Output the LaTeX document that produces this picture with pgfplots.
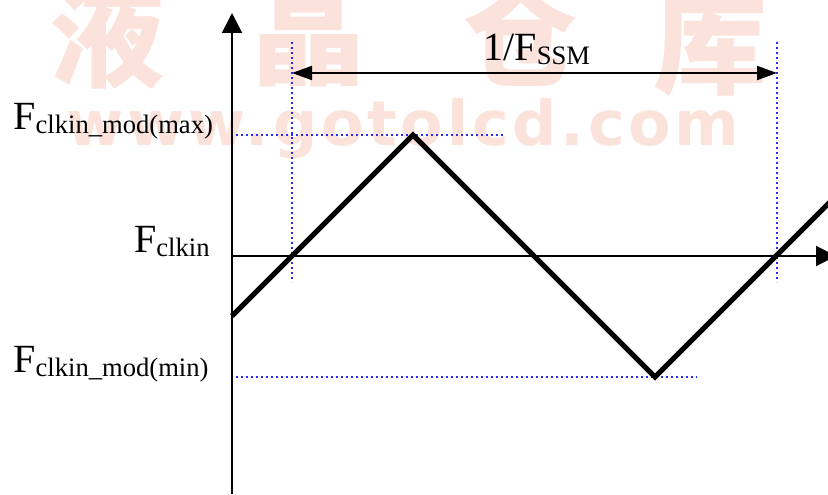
\documentclass[border=0pt]{standalone}
\usepackage{fontspec}
\setmainfont{Liberation Serif}
\newfontfamily\cjk{Noto Sans CJK SC}
\newfontfamily\wmsans[LetterSpace=6]{DejaVu Sans}
\usepackage{pgfplots}
\pgfplotsset{compat=1.18}
\usetikzlibrary{arrows.meta}

\definecolor{wmark}{RGB}{251,226,218}
\definecolor{dotblue}{RGB}{40,40,255}

% F with a lowered subscript
\newcommand\flab[1]{{\fontsize{20}{24}\selectfont F}\raisebox{-2.2pt}{\fontsize{13.3}{15}\selectfont #1}}

\begin{document}
\begin{tikzpicture}
\begin{axis}[
    scale only axis,
    width=414pt, height=247pt,
    xmin=0, xmax=828, ymin=0, ymax=494,
    hide axis,
    clip=false,
]
% watermark
\node[wmark, font=\cjk\bfseries\fontsize{57}{60}\selectfont] at (axis cs:107,459) {液};
\node[wmark, font=\cjk\bfseries\fontsize{57}{60}\selectfont] at (axis cs:308,459) {晶};
\node[wmark, font=\cjk\bfseries\fontsize{57}{60}\selectfont] at (axis cs:520,461) {仓};
\node[wmark, font=\cjk\bfseries\fontsize{57}{60}\selectfont] at (axis cs:710,452) {库};
\node[wmark, anchor=base, font=\wmsans\bfseries\fontsize{31}{34}\selectfont] at (axis cs:403,349) {www.gotolcd.com};

% axes
\draw[line width=1pt, -{Triangle[length=10pt,width=10pt]}] (axis cs:232,0) -- (axis cs:232,481);
\draw[line width=1pt, -{Triangle[length=10pt,width=10pt]}] (axis cs:232,238) -- (axis cs:836,238);

% guide lines
\draw[dotblue, line width=1.2pt, dash pattern=on 1.1pt off 1.4pt] (axis cs:292,452) -- (axis cs:292,212);
\draw[dotblue, line width=1.2pt, dash pattern=on 1.1pt off 1.4pt] (axis cs:777,452) -- (axis cs:777,212);
\draw[dotblue, line width=1.2pt, dash pattern=on 1.1pt off 1.4pt] (axis cs:236,359) -- (axis cs:505,359);
\draw[dotblue, line width=1.2pt, dash pattern=on 1.1pt off 1.4pt] (axis cs:236,117) -- (axis cs:697,117);

% period arrow
\draw[line width=1pt, {Triangle[length=10pt,width=7pt]}-{Triangle[length=10pt,width=7pt]}] (axis cs:292,421) -- (axis cs:777,421);

% triangle modulation
\addplot[black, line width=2.5pt, line join=miter] coordinates {
    (232,178) (413,359) (655,117) (845,307)
};

% labels
\node[anchor=base west, inner sep=0pt] at (axis cs:13,365) {\flab{clkin\_mod(max)}};
\node[anchor=base east, inner sep=0pt] at (axis cs:210,242) {\flab{clkin}};
\node[anchor=base west, inner sep=0pt] at (axis cs:13,122) {\flab{clkin\_mod(min)}};
\node[anchor=base west, inner sep=0pt] at (axis cs:483,434) {{\fontsize{20}{24}\selectfont 1/}\flab{SSM}};
\end{axis}
\pgfresetboundingbox
\useasboundingbox (current axis.south west) rectangle (current axis.north east);
\end{tikzpicture}
\end{document}
